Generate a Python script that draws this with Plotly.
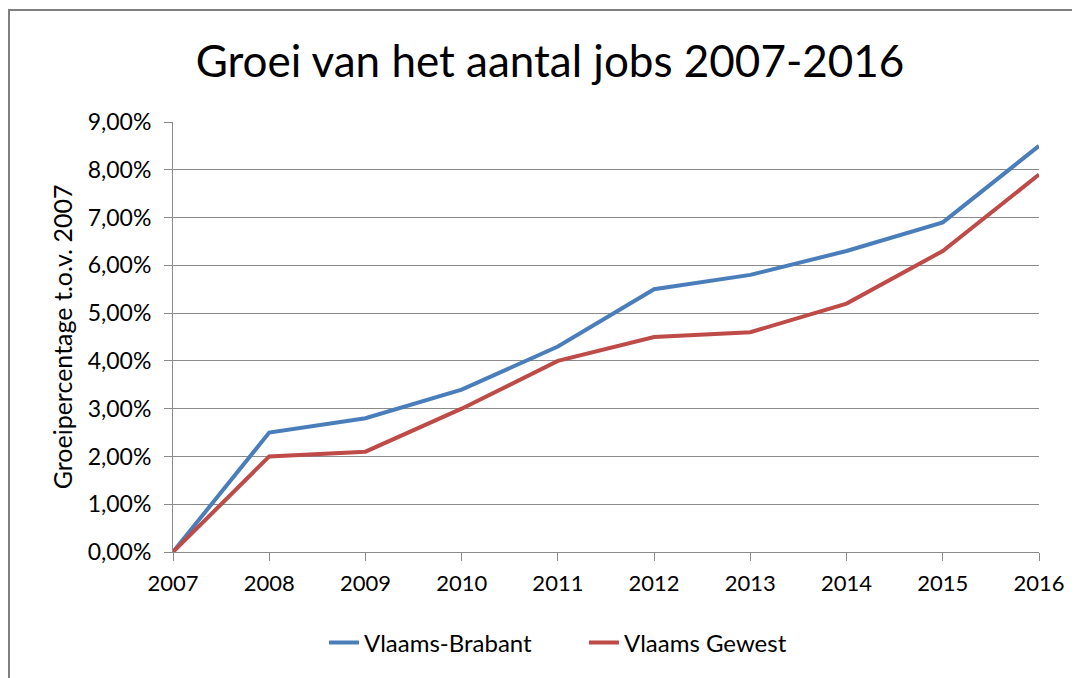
import plotly.graph_objects as go

years = [2007, 2008, 2009, 2010, 2011, 2012, 2013, 2014, 2015, 2016]
vlaams_brabant = [0.0, 2.5, 2.8, 3.4, 4.3, 5.5, 5.8, 6.3, 6.9, 8.5]
vlaams_gewest = [0.0, 2.0, 2.1, 3.0, 4.0, 4.5, 4.6, 5.2, 6.3, 7.9]
series_names = ["Vlaams-Brabant", "Vlaams Gewest"]
colors = ["#4A7EBB", "#BE4B48"]
title_text = "Groei van het aantal jobs 2007-2016"
y_title = "Groeipercentage t.o.v. 2007"

FONT = "Lato, 'Open Sans', sans-serif"
W, H = 1080, 678
OFF = 8  # page body margin
L, T = 173 - OFF, 122 - OFF
pw, ph = 866, 430
R, B = W - L - pw, H - T - ph

fig = go.Figure()
for name, vals, c in zip(series_names, [vlaams_brabant, vlaams_gewest], colors):
    fig.add_trace(go.Scatter(x=years, y=vals, mode="lines", name=name,
                             line=dict(color=c, width=4), cliponaxis=False))

grid = "#8a8a8a"
fig.update_layout(
    width=W, height=H,
    margin=dict(l=L, r=R, t=T, b=B),
    paper_bgcolor="white", plot_bgcolor="white",
    separators=",.",
    title=dict(text=title_text, x=(550 - OFF) / W, xref="container", xanchor="center",
               y=1 - (62 - OFF) / H, yref="container", yanchor="middle",
               font=dict(family=FONT, size=44, color="black")),
    xaxis=dict(range=[2007, 2016], dtick=1, tickformat="d", tick0=2007,
               showgrid=False, showline=True, linecolor=grid, linewidth=1,
               ticks="outside", ticklen=8, tickcolor=grid, ticklabelstandoff=4,
               tickfont=dict(family=FONT, size=22, color="#000")),
    yaxis=dict(range=[0, 9], dtick=1, tickformat=".2f", ticksuffix="%",
               showgrid=True, gridcolor=grid, gridwidth=1,
               showline=True, linecolor=grid, linewidth=1,
               ticks="outside", ticklen=8, tickcolor=grid, zeroline=False,
               ticklabelstandoff=8,
               tickfont=dict(family=FONT, size=23, color="#000")),
    legend=dict(orientation="h", x=(324 - OFF) / W, xref="container", xanchor="left",
                y=1 - (643 - OFF) / H, yref="container", yanchor="middle",
                font=dict(family=FONT, size=24, color="#000"),
                entrywidth=215, entrywidthmode="pixels"),
    showlegend=True,
)
fig.update_yaxes(title=dict(text=y_title, standoff=7,
                            font=dict(family=FONT, size=25, color="black")))

# outer chart frame (cut off at right and bottom edges)
x0 = (8 - OFF + 1 - L) / pw
y1 = (H - B - (9 - OFF + 1)) / ph
fig.add_shape(type="rect", xref="paper", yref="paper",
              x0=x0, x1=(W + 20 - L) / pw, y0=(H - B - H - 20) / ph, y1=y1,
              line=dict(color="#7f7f7f", width=2), layer="below")

fig.write_html("out.html")
